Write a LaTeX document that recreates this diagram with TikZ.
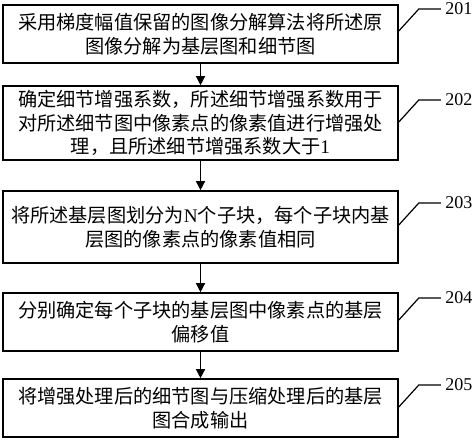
\documentclass[tikz,border=0pt]{standalone}
\usepackage{fontspec}
\setmainfont{Liberation Serif}
\newfontfamily\cjk{Noto Sans CJK SC}
\usetikzlibrary{arrows.meta}
\tikzset{
  stepbox/.style={draw, line width=1.6pt, minimum width=395pt, align=center, inner sep=0pt,
    font=\cjk\fontsize{19.2}{23.5}\selectfont},
  flow/.style={line width=1.3pt, -{Triangle[length=9pt,width=9pt]}},
  leader/.style={line width=1.2pt},
  tag/.style={right, inner sep=4pt, font=\rmfamily\fontsize{18}{18}\selectfont}
}
\begin{document}
\begin{tikzpicture}[x=1pt,y=-1pt]
\useasboundingbox[fill=white] (0,0) rectangle (474,441);
\node[stepbox, minimum height=58pt] (b1) at (200.5,34) {采用梯度幅值保留的图像分解算法将所述原\\图像分解为基层图和细节图};
\node[stepbox, minimum height=74pt] (b2) at (200.5,123) {确定细节增强系数，所述细节增强系数用于\\对所述细节图中像素点的像素值进行增强处\\理，且所述细节增强系数大于{\rmfamily 1}};
\node[stepbox, minimum height=72pt] (b3) at (200.5,227) {将所述基层图划分为{\rmfamily N}个子块，每个子块内基\\层图的像素点的像素值相同};
\node[stepbox, minimum height=58pt] (b4) at (200.5,322) {分别确定每个子块的基层图中像素点的基层\\偏移值};
\node[stepbox, minimum height=58pt] (b5) at (200.5,408) {将增强处理后的细节图与压缩处理后的基层\\图合成输出};
\draw[flow] (b1) -- (b2);
\draw[flow] (b2) -- (b3);
\draw[flow] (b3) -- (b4);
\draw[flow] (b4) -- (b5);
\draw[leader] ([yshift=3pt]b1.east) -- ++(20,-22) -- ++(22,0) node[tag] (l1) {201};
\draw[leader] ([yshift=1pt]b2.east) -- ++(20,-22) -- ++(22,0) node[tag] (l2) {202};
\draw[leader] ([yshift=2pt]b3.east) -- ++(20,-22) -- ++(22,0) node[tag] (l3) {203};
\draw[leader] ([yshift=2pt]b4.east) -- ++(20,-22) -- ++(22,0) node[tag] (l4) {204};
\draw[leader] ([yshift=1pt]b5.east) -- ++(20,-22) -- ++(22,0) node[tag] (l5) {205};
\end{tikzpicture}
\end{document}
